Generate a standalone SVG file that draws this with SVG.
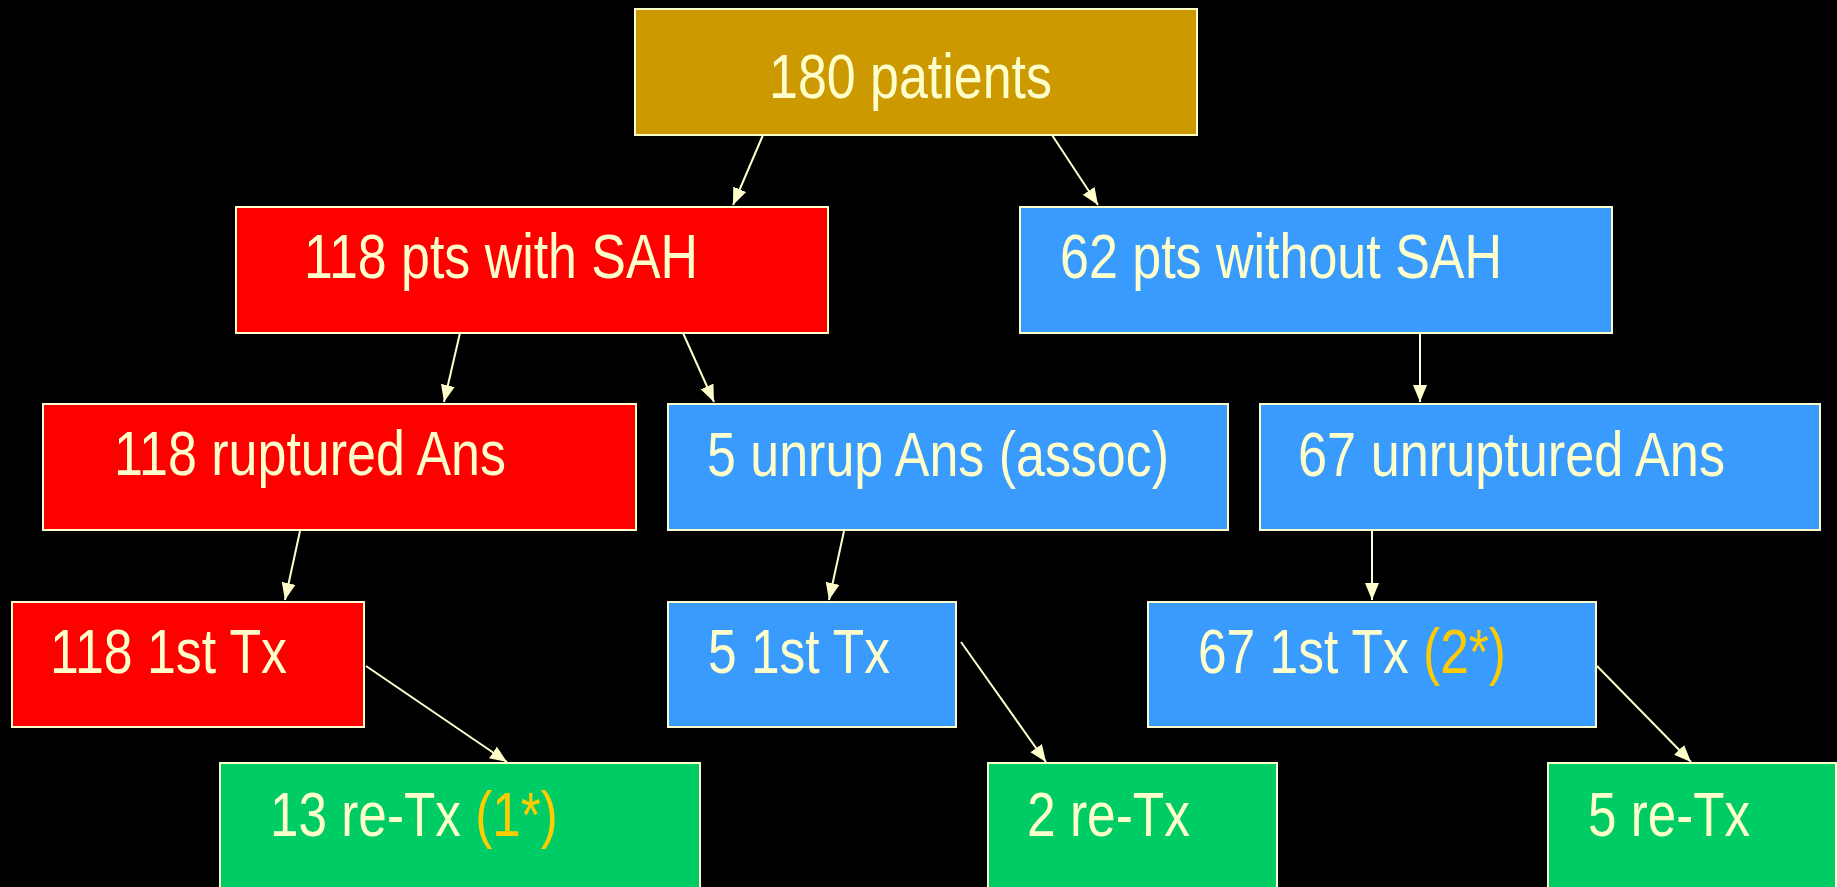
<svg xmlns="http://www.w3.org/2000/svg" width="1837" height="887" viewBox="0 0 1837 887">
<style>
  .box { stroke: #FFFFCC; stroke-width: 2; }
  .gold { fill: #CC9900; }
  .red { fill: #FF0000; }
  .blue { fill: #3A9BFF; }
  .green { fill: #00CC66; }
  .lbl { font-family: "Liberation Sans", Arial, sans-serif; font-size: 63px; fill: #FFFFCC; }
  .hl { fill: #FFCC00; }
  .conn line { stroke: #FFFFCC; stroke-width: 2; }
</style>
<defs>
  <marker id="arr" markerUnits="userSpaceOnUse" markerWidth="18" markerHeight="16" refX="17" refY="7" orient="auto">
    <path d="M0,0 L17,7 L0,14 Z" fill="#FFFFCC"/>
  </marker>
</defs>
<rect x="0" y="0" width="1837" height="887" fill="#000000"/>

<g id="connectors" class="conn">
  <line x1="763" y1="135" x2="733" y2="205" marker-end="url(#arr)"/>
  <line x1="1052" y1="135" x2="1098" y2="205" marker-end="url(#arr)"/>
  <line x1="460" y1="333" x2="444" y2="402" marker-end="url(#arr)"/>
  <line x1="683" y1="333" x2="714" y2="402" marker-end="url(#arr)"/>
  <line x1="1420" y1="333" x2="1420" y2="402" marker-end="url(#arr)"/>
  <line x1="300" y1="531" x2="285" y2="600" marker-end="url(#arr)"/>
  <line x1="844" y1="531" x2="829" y2="600" marker-end="url(#arr)"/>
  <line x1="1372" y1="531" x2="1372" y2="600" marker-end="url(#arr)"/>
  <line x1="366" y1="666" x2="507" y2="762" marker-end="url(#arr)"/>
  <line x1="961" y1="642" x2="1046" y2="762" marker-end="url(#arr)"/>
  <line x1="1597" y1="666" x2="1691" y2="762" marker-end="url(#arr)"/>
</g>

<g id="n180">
  <rect class="box gold" x="635" y="9" width="562" height="126"/>
  <text class="lbl" x="769" y="98" textLength="283" lengthAdjust="spacingAndGlyphs">180 patients</text>
</g>
<g id="nSAH">
  <rect class="box red" x="236" y="207" width="592" height="126"/>
  <text class="lbl" x="304" y="278" textLength="394" lengthAdjust="spacingAndGlyphs">118 pts with SAH</text>
</g>
<g id="nNoSAH">
  <rect class="box blue" x="1020" y="207" width="592" height="126"/>
  <text class="lbl" x="1060" y="278" textLength="442" lengthAdjust="spacingAndGlyphs">62 pts without SAH</text>
</g>
<g id="nRupt">
  <rect class="box red" x="43" y="404" width="593" height="126"/>
  <text class="lbl" x="114" y="475" textLength="392" lengthAdjust="spacingAndGlyphs">118 ruptured Ans</text>
</g>
<g id="nUnrupAssoc">
  <rect class="box blue" x="668" y="404" width="560" height="126"/>
  <text class="lbl" x="707" y="476" textLength="462" lengthAdjust="spacingAndGlyphs">5 unrup Ans (assoc)</text>
</g>
<g id="nUnrup">
  <rect class="box blue" x="1260" y="404" width="560" height="126"/>
  <text class="lbl" x="1298" y="476" textLength="427" lengthAdjust="spacingAndGlyphs">67 unruptured Ans</text>
</g>
<g id="nTx118">
  <rect class="box red" x="12" y="602" width="352" height="125"/>
  <text class="lbl" x="50" y="673" textLength="237" lengthAdjust="spacingAndGlyphs">118 1st Tx</text>
</g>
<g id="nTx5">
  <rect class="box blue" x="668" y="602" width="288" height="125"/>
  <text class="lbl" x="708" y="673" textLength="182" lengthAdjust="spacingAndGlyphs">5 1st Tx</text>
</g>
<g id="nTx67">
  <rect class="box blue" x="1148" y="602" width="448" height="125"/>
  <text class="lbl" transform="translate(1198,673) scale(0.817,1)" x="0" y="0">67 1st Tx <tspan class="hl">(2*)</tspan></text>
</g>
<g id="nRe13">
  <rect class="box green" x="220" y="763" width="480" height="140"/>
  <text class="lbl" transform="translate(270,836) scale(0.814,1)" x="0" y="0">13 re-Tx <tspan class="hl">(1*)</tspan></text>
</g>
<g id="nRe2">
  <rect class="box green" x="988" y="763" width="289" height="140"/>
  <text class="lbl" x="1027" y="836" textLength="163" lengthAdjust="spacingAndGlyphs">2 re-Tx</text>
</g>
<g id="nRe5">
  <rect class="box green" x="1548" y="763" width="288" height="140"/>
  <text class="lbl" x="1588" y="836" textLength="162" lengthAdjust="spacingAndGlyphs">5 re-Tx</text>
</g>
</svg>
